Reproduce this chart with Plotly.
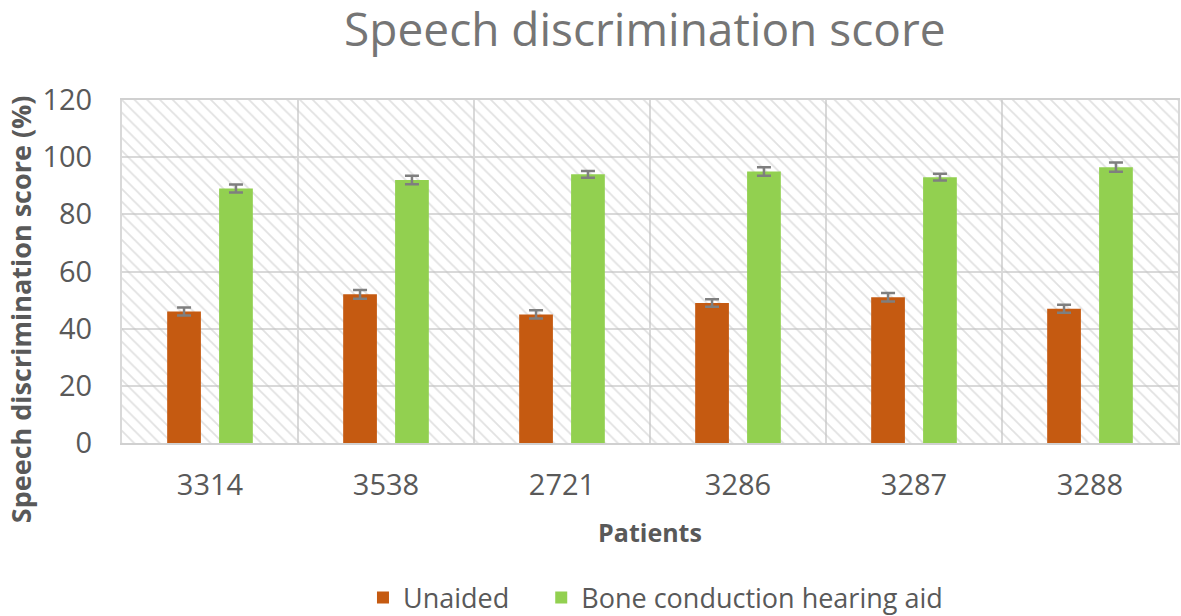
import plotly.graph_objects as go

patients = ["3314", "3538", "2721", "3286", "3287", "3288"]
unaided = [46, 52, 45, 49, 51, 47]
unaided_err = [1.4, 1.5, 1.4, 1.3, 1.5, 1.4]
bcha = [89, 92, 94, 95, 93, 96.5]
bcha_err = [1.4, 1.5, 1.2, 1.5, 1.2, 1.6]
y_max = 120

FONT = "Open Sans"
fig = go.Figure()

# hatched plot-area background, one full-width cell per category
fig.add_trace(go.Bar(
    x=patients, y=[y_max] * len(patients), offset=-0.5, width=1,
    marker=dict(color="rgba(0,0,0,0)", line=dict(width=0),
                pattern=dict(shape="\\", fgcolor="#c4c4c4", bgcolor="rgba(0,0,0,0)",
                             size=9, solidity=0.2)),
    showlegend=False, hoverinfo="skip"))

err_style = dict(type="data", visible=True, color="#7f7f7f", thickness=2.5, width=7)
fig.add_trace(go.Bar(x=patients, y=unaided, name="Unaided", legend="legend",
                     marker=dict(color="#C55A11", line=dict(color="#C55A11", width=0)),
                     error_y=dict(array=unaided_err, **err_style)))
fig.add_trace(go.Bar(x=patients, y=bcha, name="Bone conduction hearing aid",
                     legend="legend2",
                     marker=dict(color="#92D050", line=dict(color="#92D050", width=0)),
                     error_y=dict(array=bcha_err, **err_style)))

legend_font = dict(family=FONT, size=27, color="#595959")
fig.update_layout(
    width=1181, height=616,
    margin=dict(l=122, r=3, t=100, b=173, autoexpand=False),
    paper_bgcolor="white", plot_bgcolor="white",
    barmode="group", bargap=0.41, bargroupgap=0.35,
    font=dict(family=FONT, color="#595959"),
    title=dict(text="Speech discrimination score", x=0.546, xanchor="center",
               y=0.951, yanchor="middle",
               font=dict(family=FONT, size=46, color="#757575")),
    legend=dict(orientation="h", x=0.2282, xanchor="left", y=-0.452, yanchor="middle",
                font=legend_font, bgcolor="rgba(0,0,0,0)"),
    legend2=dict(orientation="h", x=0.397, xanchor="left", y=-0.452, yanchor="middle",
                 font=legend_font, bgcolor="rgba(0,0,0,0)"),
    xaxis=dict(type="category", tickson="boundaries", showgrid=True,
               gridcolor="#d9d9d9", gridwidth=2, automargin=False,
               showline=True, linecolor="#d0d0d0", linewidth=2, mirror=True,
               ticks="", ticklabelstandoff=15,
               tickfont=dict(family=FONT, size=29, color="#595959"),
               title=dict(text="<b>Patients</b>", standoff=23,
                          font=dict(family=FONT, size=25, color="#595959"))),
    yaxis=dict(range=[0, y_max], dtick=20, showgrid=True, gridcolor="#d9d9d9",
               gridwidth=2, zeroline=False, showline=True, linecolor="#d9d9d9",
               linewidth=2, mirror=True, ticks="", ticklabelstandoff=22,
               automargin=False,
               tickfont=dict(family=FONT, size=29, color="#595959")),
    annotations=[dict(text="<b>Speech discrimination score (%)</b>", textangle=-90,
                      xref="paper", yref="paper", x=-102 / 1056, y=0.39,
                      xanchor="center", yanchor="middle", showarrow=False,
                      font=dict(family=FONT, size=27, color="#595959"))],
)

fig.write_html("out.html", config={"displayModeBar": False},
               post_script="document.body.style.margin='0';"
                           "document.body.style.overflow='hidden';")
